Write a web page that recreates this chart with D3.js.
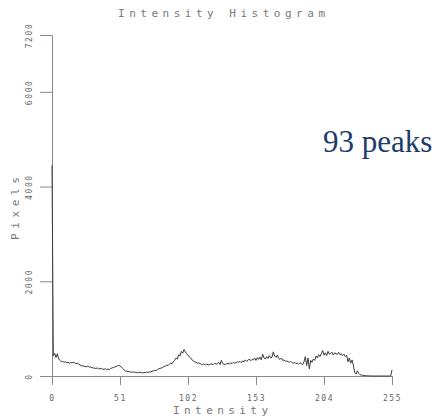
<!DOCTYPE html>
<html>
<head>
<meta charset="utf-8">
<script src="https://cdn.jsdelivr.net/npm/d3@7"></script>
<style>
  body { margin: 0; background: #fff; }
  svg { display: block; }
</style>
</head>
<body>
<div id="chart"></div>
<script>
// pixel counts per intensity bin (0..255)
const counts = [
  4450,
  420, 480, 390, 470, 360, 330, 300, 310, 290, 300,
  280, 290, 270, 285, 275, 290, 280, 260, 270, 250,
  230, 215, 220, 205, 200, 195, 210, 185, 190, 175,
  170, 165, 160, 170, 155, 150, 160, 145, 140, 155,
  130, 150, 135, 160, 170, 180, 190, 200, 215, 225,
  210, 190, 160, 130, 110, 100, 95, 90, 85, 80,
  85, 75, 80, 70, 75, 80, 70, 65, 75, 70,
  80, 75, 90, 85, 100, 110, 120, 115, 135, 150,
  160, 170, 180, 200, 210, 230, 220, 250, 270, 260,
  300, 330, 380, 360, 450, 420, 520, 480, 560, 510,
  470, 440, 400, 380, 340, 320, 300, 290, 270, 280,
  260, 250, 240, 260, 230, 250, 240, 230, 260, 250,
  240, 270, 250, 260, 290, 240, 330, 260, 250, 240,
  260, 270, 250, 280, 260, 290, 270, 280, 300, 290,
  310, 280, 320, 300, 340, 310, 330, 360, 320, 350,
  340, 380, 330, 390, 350, 400, 340, 460, 380, 360,
  410, 370, 430, 380, 400, 510, 420, 390, 440, 370,
  350, 380, 330, 340, 310, 320, 300, 290, 310, 280,
  270, 290, 260, 270, 250, 280, 260, 240, 300, 410,
  220, 380, 150, 330, 290, 360, 330, 420, 380, 450,
  410, 470, 540, 440, 490, 430, 520, 460, 480, 500,
  440, 490, 470, 460, 500, 450, 470, 430, 460, 410,
  440, 300, 380, 270, 340, 230, 80, 40, 110, 60,
  30, 20, 15, 10, 8, 5, 3, 2, 1, 0,
  0, 0, 0, 0, 0, 0, 0, 0, 0, 0,
  0, 0, 0, 0, 130
];
const xTicks = [0, 51, 102, 153, 204, 255];
const yTicks = [0, 2000, 4000, 6000, 7200];
const title = "Intensity Histogram";
const xLabel = "Intensity";
const yLabel = "Pixels";
const note = "93 peaks";

const width = 440, height = 420;
const margin = {top: 35, right: 48, bottom: 44, left: 52};

const svg = d3.select("#chart").append("svg")
  .attr("width", width)
  .attr("height", height);

const x = d3.scaleLinear().domain([0, 255]).range([margin.left, width - margin.right]);
const y = d3.scaleLinear().domain([0, 7200]).range([height - margin.bottom, margin.top]);

const grey = "#8a8a8a";
const labelFont = "'DejaVu Sans Mono', monospace";

// x axis
const gx = svg.append("g")
  .attr("transform", `translate(0,${y(0)})`)
  .call(d3.axisBottom(x).tickValues(xTicks).tickFormat(d3.format("d"))
    .tickSize(9).tickSizeOuter(0).tickPadding(10));
gx.selectAll("text")
  .attr("font-family", labelFont).attr("font-size", 8)
  .attr("letter-spacing", 1.6).attr("fill", "#666");

// y axis
const gy = svg.append("g")
  .attr("transform", `translate(${x(0)},0)`)
  .call(d3.axisLeft(y).tickValues(yTicks).tickFormat(d3.format("d"))
    .tickSize(12).tickSizeOuter(0).tickPadding(0));
gy.selectAll("text")
  .attr("font-family", labelFont).attr("font-size", 8)
  .attr("letter-spacing", 1.6).attr("fill", "#666")
  .attr("text-anchor", "middle")
  .attr("transform", "translate(-23,0) rotate(-90)")
  .attr("x", 0).attr("dy", "0.35em");

svg.selectAll(".domain, .tick line").attr("stroke", grey);

// histogram curve
const line = d3.line()
  .x((d, i) => x(i))
  .y(d => y(d));

svg.append("path")
  .datum(counts)
  .attr("fill", "none")
  .attr("stroke", "#3a3a3a")
  .attr("stroke-width", 1)
  .attr("d", line);

// titles
svg.append("text")
  .attr("x", 118).attr("y", 17)
  .attr("textLength", 207).attr("lengthAdjust", "spacing")
  .attr("font-family", labelFont).attr("font-size", 11)
  .attr("fill", "#777")
  .text(title);

svg.append("text")
  .attr("x", 173).attr("y", 414)
  .attr("textLength", 95).attr("lengthAdjust", "spacing")
  .attr("font-family", labelFont).attr("font-size", 11)
  .attr("fill", "#777")
  .text(xLabel);

svg.append("text")
  .attr("transform", "translate(19,240) rotate(-90)")
  .attr("textLength", 63).attr("lengthAdjust", "spacing")
  .attr("font-family", labelFont).attr("font-size", 11)
  .attr("fill", "#777")
  .text(yLabel);

svg.append("text")
  .attr("x", 323).attr("y", 152)
  .attr("font-family", "'Liberation Serif', 'Times New Roman', serif")
  .attr("font-size", 31)
  .attr("fill", "#1c3c6c")
  .text(note);
</script>
</body>
</html>
